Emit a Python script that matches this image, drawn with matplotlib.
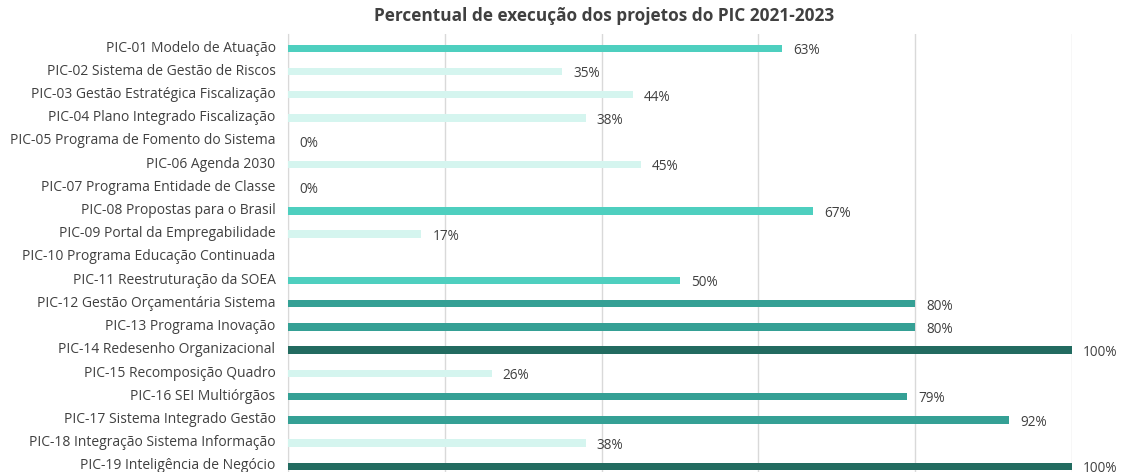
import matplotlib.pyplot as plt
import numpy as np

projetos = [
    "PIC-01 Modelo de Atuação",
    "PIC-02 Sistema de Gestão de Riscos",
    "PIC-03 Gestão Estratégica Fiscalização",
    "PIC-04 Plano Integrado Fiscalização",
    "PIC-05 Programa de Fomento do Sistema",
    "PIC-06 Agenda 2030",
    "PIC-07 Programa Entidade de Classe",
    "PIC-08 Propostas para o Brasil",
    "PIC-09 Portal da Empregabilidade",
    "PIC-10 Programa Educação Continuada",
    "PIC-11 Reestruturação da SOEA",
    "PIC-12 Gestão Orçamentária Sistema",
    "PIC-13 Programa Inovação",
    "PIC-14 Redesenho Organizacional",
    "PIC-15 Recomposição Quadro",
    "PIC-16 SEI Multiórgãos",
    "PIC-17 Sistema Integrado Gestão",
    "PIC-18 Integração Sistema Informação",
    "PIC-19 Inteligência de Negócio",
]
execucao = [63, 35, 44, 38, 0, 45, 0, 67, 17, None, 50, 80, 80, 100, 26, 79, 92, 38, 100]


def cor(v):
    if v is None or v < 50:
        return "#d5f5ef"
    if v < 75:
        return "#4ecfbf"
    if v < 100:
        return "#35a095"
    return "#226b60"


plt.rcParams['font.family'] = ['Open Sans', 'DejaVu Sans']

fig = plt.figure(figsize=(11.34, 4.72), dpi=100)
ax = fig.add_axes([288 / 1134, -3.6 / 472, 784 / 1134, (472 - 34.4 + 3.6) / 472])

y = np.arange(len(projetos))
vals = [0 if v is None else v for v in execucao]
ax.barh(y + 0.1, vals, height=0.32, color=[cor(v) for v in execucao], zorder=3)

for yi, v in zip(y, execucao):
    if v is None:
        continue
    ax.text(v + 1.4, yi + 0.2, f"{v}%", va="center", ha="left",
            fontsize=9.8, color="#404040")

ax.set_xlim(0, 100)
ax.set_ylim(len(projetos) - 0.5, -0.5)
ax.set_yticks(y)
ax.set_yticklabels(projetos, fontsize=10, color="#404040")
ax.tick_params(axis="y", length=0, pad=9)
ax.set_xticks([0, 20, 40, 60, 80, 100])
ax.tick_params(axis="x", length=0, labelbottom=False)
ax.grid(axis="x", color="#d9d9d9", linewidth=1, zorder=0)
for s in ["top", "right", "bottom"]:
    ax.spines[s].set_visible(False)
ax.spines["left"].set_color("#d9d9d9")

fig.text(604 / 1134, 1 - 16 / 472, "Percentual de execução dos projetos do PIC 2021-2023",
         ha="center", va="center", fontsize=12.4, fontweight="bold", color="#404040")

fig.savefig("out.png", dpi=100)
